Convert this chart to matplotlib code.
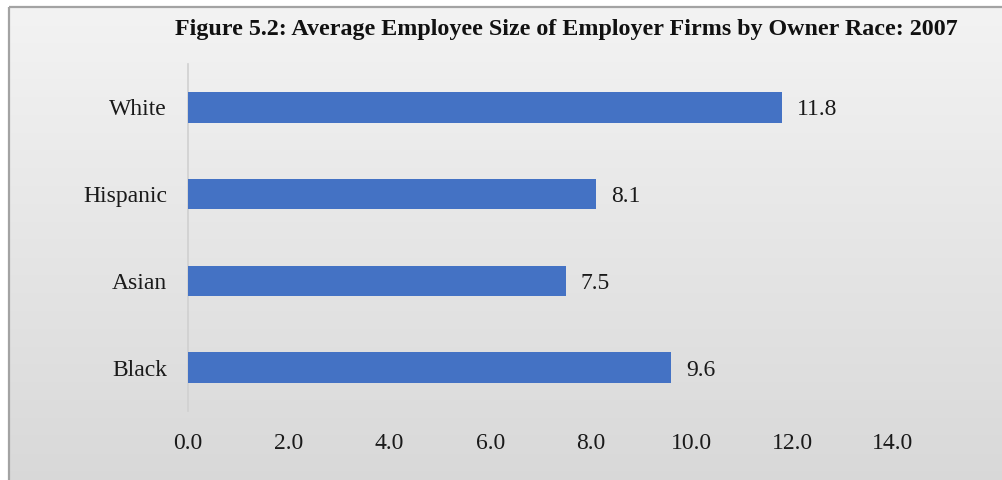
import numpy as np
import matplotlib.pyplot as plt
from matplotlib.patches import Rectangle
from matplotlib.colors import LinearSegmentedColormap

# Average employee size by owner race, 2007
races = ["White", "Hispanic", "Asian", "Black"]
avg_size = [11.8, 8.1, 7.5, 9.6]
x_ticks = [0, 2, 4, 6, 8, 10, 12, 14]
title = "Figure 5.2: Average Employee Size of Employer Firms by Owner Race: 2007"

plt.rcParams["font.family"] = ["Liberation Serif", "DejaVu Serif"]

W, H = 1002, 480
fig = plt.figure(figsize=(W / 100, H / 100), dpi=100, facecolor="white")

# Frame geometry in figure pixels (runs past the right and bottom edges)
fx0, fy0 = 9.5, 7.0

# Vertical grey gradient inside the frame
bg = fig.add_axes([0, 0, 1, 1], zorder=-10)
grad = np.linspace(0, 1, 256).reshape(-1, 1)
cmap = LinearSegmentedColormap.from_list("bg", ["#f3f3f3", "#d8d8d8"])
bg.imshow(grad, aspect="auto", cmap=cmap, extent=[fx0, W + 10, H + 10, fy0],
          origin="upper", clip_on=False)
bg.set_xlim(0, W)
bg.set_ylim(H, 0)
bg.axis("off")
bg.add_patch(Rectangle((fx0, fy0), W, H, fill=False, edgecolor="#a3a3a3",
                       linewidth=1.6, clip_on=False))

ax = fig.add_axes([188 / W, 1 - 411 / H, 705 / W, 347 / H])
ax.patch.set_alpha(0)
y = np.arange(len(races))
ax.barh(y, avg_size, height=0.35, color="#4472C4", zorder=3)
for yi, v in zip(y, avg_size):
    ax.text(v + 0.3, yi, f"{v:.1f}", va="center_baseline", ha="left",
            fontsize=17, color="#1a1a1a")

ax.set_xlim(0, 14)
ax.set_ylim(len(races) - 0.5, -0.5)
ax.set_xticks(x_ticks)
ax.set_xticklabels([f"{t:.1f}" for t in x_ticks])
ax.set_yticks(y)
ax.set_yticklabels(races)
ax.tick_params(axis="both", length=0, labelsize=17, labelcolor="#1a1a1a")
ax.tick_params(axis="x", pad=16)
ax.tick_params(axis="y", pad=15)
for lbl in ax.get_yticklabels():
    lbl.set_verticalalignment("center_baseline")
for side in ["top", "right", "bottom"]:
    ax.spines[side].set_visible(False)
ax.spines["left"].set_color("#d0d0d0")
ax.spines["left"].set_linewidth(1.2)

fig.text(566 / W, 1 - 29 / H, title, ha="center", va="center",
         fontsize=17.3, fontweight="bold", color="#111111")

fig.savefig("out.png", dpi=100, facecolor="white")
